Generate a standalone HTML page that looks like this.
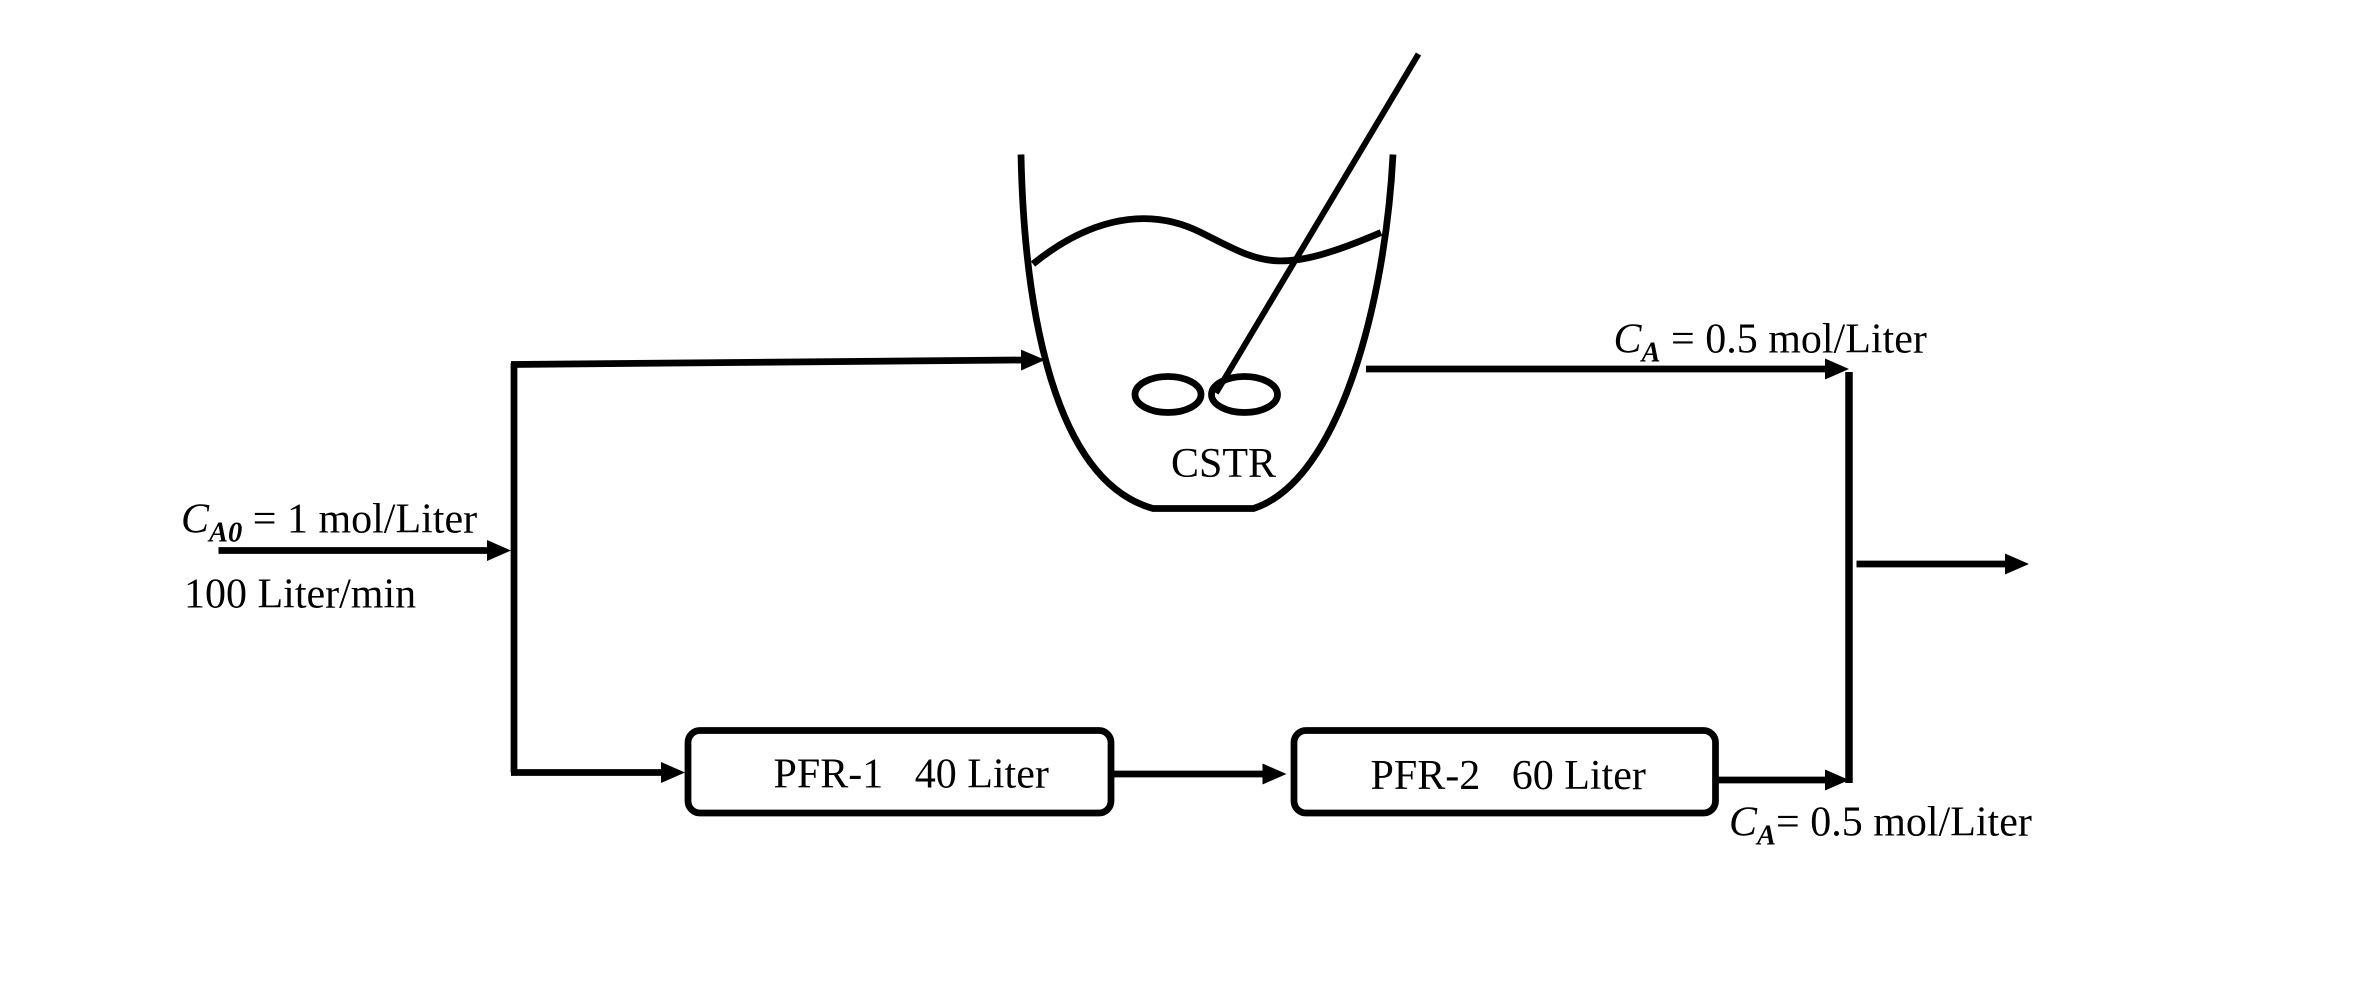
<!DOCTYPE html>
<html><head><style>html,body{margin:0;padding:0;background:#fff;}svg{display:block}</style></head>
<body>
<svg width="2354" height="990" viewBox="0 0 1568 660" xmlns="http://www.w3.org/2000/svg">
<defs><marker id="a" markerWidth="16" markerHeight="14" refX="2" refY="7" orient="auto" markerUnits="userSpaceOnUse"><path d="M0,0 L16,7 L0,14 z" fill="#000"/></marker></defs>
<g stroke="#000" stroke-width="4.5" fill="none">
<line x1="145" y1="367" x2="326" y2="367" marker-end="url(#a)"/>
<line x1="342" y1="242" x2="342" y2="515"/>
<line x1="340" y1="243" x2="682" y2="240" marker-end="url(#a)"/>
<line x1="340" y1="515" x2="442" y2="515" marker-end="url(#a)"/>
<rect x="458" y="487" width="282" height="55" rx="8"/>
<line x1="742" y1="516" x2="843" y2="516" marker-end="url(#a)"/>
<rect x="862" y="487" width="281" height="55" rx="8"/>
<line x1="1145" y1="520" x2="1218" y2="520" marker-end="url(#a)"/>
<line x1="1232" y1="248" x2="1232" y2="522" stroke-width="5"/>
<line x1="910" y1="246" x2="1218" y2="246" marker-end="url(#a)"/>
<line x1="1237" y1="376" x2="1338" y2="376" marker-end="url(#a)"/>
<path d="M680 103 C682 200,700 320,768 339 L835 339 C893 320,923 200,928 103"/>
<path d="M688 176 C720 150,760 135,800 155 S850 185,920 155"/>
<line x1="945" y1="36" x2="810" y2="262" stroke-width="4"/>
<ellipse cx="778" cy="263" rx="22" ry="12"/>
<ellipse cx="829" cy="263" rx="22" ry="12"/>
</g>
<g font-family="Liberation Serif, serif" font-size="28" fill="#000" xml:space="preserve">
<text x="780" y="318">CSTR</text>
<text x="120" y="355"><tspan font-style="italic">C</tspan><tspan font-style="italic" font-size="19" font-weight="bold" dy="6">A0</tspan><tspan dy="-6"> = 1 mol/Liter</tspan></text>
<text x="122" y="405">100 Liter/min</text>
<text x="1075" y="235"><tspan font-style="italic">C</tspan><tspan font-style="italic" font-size="19" font-weight="bold" dy="6">A</tspan><tspan dy="-6"> = 0.5 mol/Liter</tspan></text>
<text x="1152" y="557"><tspan font-style="italic">C</tspan><tspan font-style="italic" font-size="19" font-weight="bold" dy="6">A</tspan><tspan dy="-6">= 0.5 mol/Liter</tspan></text>
<text x="515" y="525">PFR-1&#160;&#160;&#160;40 Liter</text>
<text x="913" y="526">PFR-2&#160;&#160;&#160;60 Liter</text>
</g>
</svg>
</body></html>
